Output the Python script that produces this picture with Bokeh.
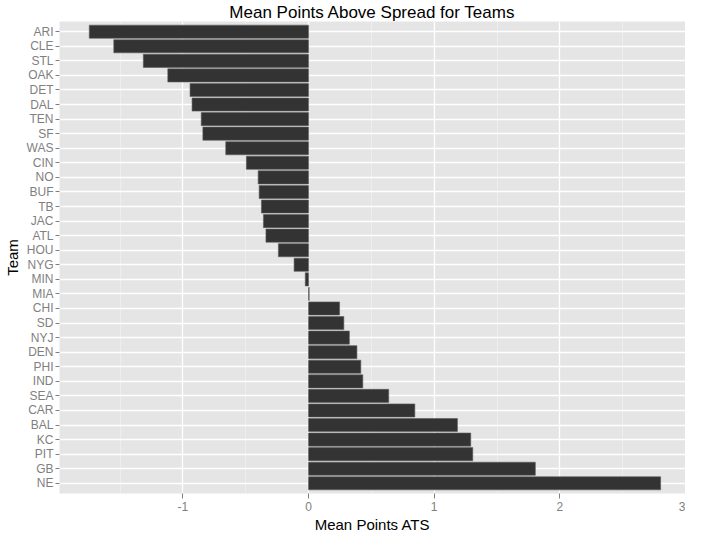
from bokeh.plotting import figure
from bokeh.models import FactorRange, Range1d, FixedTicker, ColumnDataSource
from bokeh.embed import file_html
from bokeh.resources import INLINE

teams = ["ARI", "CLE", "STL", "OAK", "DET", "DAL", "TEN", "SF", "WAS", "CIN",
         "NO", "BUF", "TB", "JAC", "ATL", "HOU", "NYG", "MIN", "MIA", "CHI",
         "SD", "NYJ", "DEN", "PHI", "IND", "SEA", "CAR", "BAL", "KC", "PIT",
         "GB", "NE"]
mean_ats = [-1.745, -1.55, -1.315, -1.12, -0.943, -0.927, -0.854, -0.841, -0.659, -0.495,
            -0.401, -0.393, -0.375, -0.359, -0.339, -0.24, -0.115, -0.026, 0.005, 0.247,
            0.281, 0.325, 0.385, 0.416, 0.432, 0.638, 0.846, 1.185, 1.291, 1.307,
            1.805, 2.802]
x_ticks = [-1, 0, 1, 2, 3]
x_minor = [-1.5, -0.5, 0.5, 1.5, 2.5]
x_tick_labels = ["-1", "0", "1", "2", "3"]

FONT = "Liberation Sans"

source = ColumnDataSource(data=dict(team=teams, val=mean_ats))

p = figure(
    width=685, height=535,
    y_range=FactorRange(factors=teams[::-1], range_padding=0.2, range_padding_units="absolute"),
    x_range=Range1d(-1.982, 3.0),
    output_backend="svg", toolbar_location=None,
    title="Mean Points Above Spread for Teams",
    min_border_left=55, min_border_right=0, min_border_top=10, min_border_bottom=10,
)

p.background_fill_color = "#E5E5E5"
p.border_fill_color = "white"
p.outline_line_color = None

p.title.text_font = FONT
p.title.text_font_size = "17px"
p.title.text_font_style = "normal"
p.title.text_color = "black"
p.title.align = "center"
p.title.standoff = 0
p.title.offset = 0

p.hbar(y="team", left=0, right="val", height=0.9, source=source,
       fill_color="#333333", line_color="#5c5c5c", line_width=0.6)

# grids
p.xgrid.ticker = FixedTicker(ticks=x_ticks, minor_ticks=x_minor)
p.xgrid.grid_line_color = "white"
p.xgrid.grid_line_width = 1.3
p.xgrid.minor_grid_line_color = "#F2F2F2"
p.xgrid.minor_grid_line_width = 0.7
p.ygrid.grid_line_color = "white"
p.ygrid.grid_line_width = 1.3

# x axis
xa = p.xaxis[0]
xa.ticker = FixedTicker(ticks=x_ticks, minor_ticks=x_minor)
xa.major_label_overrides = {t: l for t, l in zip(x_ticks, x_tick_labels)}
xa.axis_label = "Mean Points ATS"
xa.axis_line_color = None
xa.minor_tick_line_color = None
xa.major_tick_in = 0
xa.major_tick_out = 5
xa.major_tick_line_color = "#7F7F7F"
xa.major_label_standoff = 3
xa.major_label_text_font = FONT
xa.major_label_text_font_size = "12px"
xa.major_label_text_color = "#7F7F7F"
xa.axis_label_text_font = FONT
xa.axis_label_text_font_size = "15px"
xa.axis_label_text_font_style = "normal"
xa.axis_label_text_color = "black"
xa.axis_label_standoff = 2

# y axis
ya = p.yaxis[0]
ya.axis_label = "Team"
ya.axis_line_color = None
ya.major_tick_in = 0
ya.major_tick_out = 4
ya.major_tick_line_color = "#7F7F7F"
ya.major_label_standoff = 2
ya.major_label_text_font = FONT
ya.major_label_text_font_size = "12px"
ya.major_label_text_color = "#7F7F7F"
ya.axis_label_text_font = FONT
ya.axis_label_text_font_size = "15px"
ya.axis_label_text_font_style = "normal"
ya.axis_label_text_color = "black"
ya.axis_label_standoff = 3

open("out.html", "w").write(file_html(p, INLINE))
